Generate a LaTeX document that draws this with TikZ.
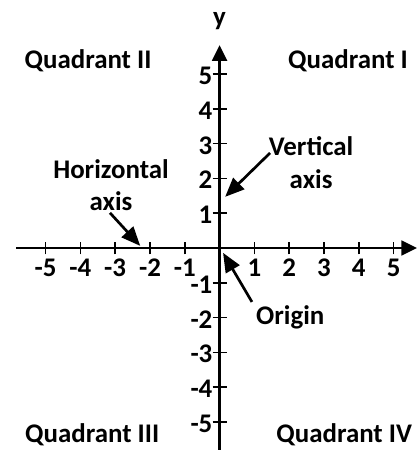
\documentclass[tikz,border=0pt]{standalone}
\usepackage{fontspec}
\setmainfont{Carlito}
\usepackage{tikz}
\usetikzlibrary{positioning,arrows.meta}

\begin{document}
\begin{tikzpicture}[font=\fontsize{22}{26}\selectfont\bfseries,
  axis/.style={line width=2.3pt, -{Triangle[length=0.45cm, width=0.42cm]}},
  pointer/.style={line width=2.2pt, -{Triangle[length=0.55cm, width=0.45cm]}},
  tick/.style={line width=1.4pt},
  lbl/.style={inner sep=0pt, align=center}]
\useasboundingbox (-6.31,-5.805) rectangle (5.675,7.126);
% axes
\coordinate (xl) at (-5.85,0);
\coordinate (xr) at (5.675,0);
\coordinate (yb) at (0,-5.85);
\coordinate (yt) at (0,5.83);
\draw[axis] (xl) -- (xr);
\draw[axis] (yb) -- (yt);
\node[lbl, anchor=base] (ylab) at (0,6.38) {y};
% ticks and numbers
\foreach \i in {-5,...,-1,1,2,...,5} {
  \draw[tick] (\i,-0.18) -- (\i,0.18);
  \node[lbl] (xn\i) at (\i,-0.57) {\i};
  \draw[tick] (-0.2,\i) -- (0.2,\i);
  \node[lbl, anchor=east] (yn\i) at (-0.2,\i-0.05) {\i};
}
% quadrants
\node[lbl, anchor=base] (q1) at (3.69,5.17) {Quadrant I};
\node[lbl, anchor=base] (q2) at (-3.78,5.17) {Quadrant II};
\node[lbl, anchor=base] (q3) at (-3.66,-5.60) {Quadrant III};
\node[lbl, anchor=base] (q4) at (3.58,-5.60) {Quadrant IV};
% labels with pointers
\node[lbl, anchor=base] (vert) at (2.63,2.67) {Vertical};
\node[lbl, anchor=base] (vaxis) at (2.63,1.72) {axis};
\node[lbl, anchor=base] (horiz) at (-3.12,2.01) {Horizontal};
\node[lbl, anchor=base] (haxis) at (-3.12,1.09) {axis};
\node[lbl, anchor=base] (orig) at (2.03,-2.21) {Origin};
\coordinate (vtail) at (1.45,2.73);
\coordinate (vtip) at (0.16,1.47);
\coordinate (htail) at (-3.15,1.01);
\coordinate (htip) at (-2.28,0.06);
\coordinate (otail) at (0.93,-1.55);
\coordinate (otip) at (0.10,-0.14);
\draw[pointer] (vtail) -- (vtip);
\draw[pointer] (htail) -- (htip);
\draw[pointer] (otail) -- (otip);
\end{tikzpicture}
\end{document}
